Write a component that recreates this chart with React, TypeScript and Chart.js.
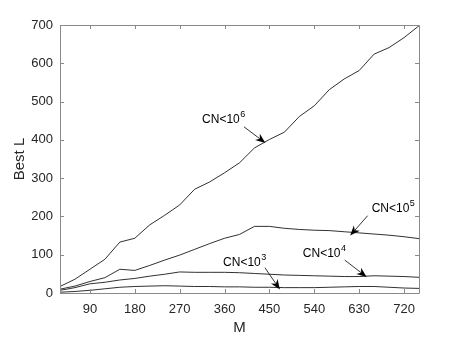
import React, { useEffect, useRef } from "react";
import { Chart, registerables } from "chart.js";

Chart.register(...registerables);

const mValues = [30, 60, 90, 120, 150, 180, 210, 240, 270, 300, 330, 360, 390, 420, 450, 480, 510, 540, 570, 600, 630, 660, 690, 720, 750];
const cn6 = [17, 36, 62, 88, 133, 143, 178, 203, 230, 271, 290, 314, 340, 379, 401, 420, 461, 489, 531, 559, 581, 624, 641, 667, 698];
const cn5 = [10, 18, 30, 40, 62, 59, 72, 86, 99, 114, 129, 143, 153, 174, 174, 169, 166, 164, 163, 160, 157, 154, 151, 147, 142];
const cn4 = [7, 14, 24, 28, 34, 38, 44, 49, 55, 54, 54, 54, 53, 51, 49, 47, 46, 45, 44, 43, 43, 45, 44, 43, 41];
const cn3 = [2, 4, 7, 11, 15, 17, 18, 19, 18, 17, 17, 16, 16, 15, 15, 14, 14, 14, 15, 16, 17, 17, 15, 13, 12];

const xTicks = [90, 180, 270, 360, 450, 540, 630, 720];
const yTicks = [0, 100, 200, 300, 400, 500, 600, 700];

const xTitle = "M";
const yTitle = "Best L";

const annotations = [
  { base: "CN<10", exp: "6", textM: 315, textV: 455, tailM: 399, tailV: 434, headM: 442, headV: 392 },
  { base: "CN<10", exp: "5", textM: 655, textV: 223, tailM: 647, tailV: 202, headM: 612, headV: 150 },
  { base: "CN<10", exp: "4", textM: 517, textV: 106, tailM: 601, tailV: 86, headM: 645, headV: 42 },
  { base: "CN<10", exp: "3", textM: 357, textV: 82, tailM: 441, tailV: 66, headM: 471, headV: 9 },
];

const FONT = "'Liberation Sans', Arial, Helvetica, sans-serif";
const TXT = "#262626";

const decorPlugin = {
  id: "decor",
  afterDraw(chart: any) {
    const ctx = chart.ctx;
    const { left, right, top, bottom } = chart.chartArea;
    const xs = chart.scales.x;
    const ys = chart.scales.y;
    ctx.save();
    // box
    ctx.strokeStyle = "#8a8a8a";
    ctx.lineWidth = 1;
    ctx.beginPath();
    ctx.rect(Math.round(left) + 0.5, Math.round(top) + 0.5, Math.round(right - left), Math.round(bottom - top));
    ctx.stroke();
    // inward ticks
    const tl = 4;
    ctx.beginPath();
    xTicks.forEach((v) => {
      const x = Math.round(xs.getPixelForValue(v)) + 0.5;
      ctx.moveTo(x, bottom);
      ctx.lineTo(x, bottom - tl);
      ctx.moveTo(x, top);
      ctx.lineTo(x, top + tl);
    });
    yTicks.forEach((v) => {
      const y = Math.round(ys.getPixelForValue(v)) + 0.5;
      ctx.moveTo(left, y);
      ctx.lineTo(left + tl, y);
      ctx.moveTo(right, y);
      ctx.lineTo(right - tl, y);
    });
    ctx.stroke();

    // axis titles
    ctx.fillStyle = TXT;
    ctx.font = `15px ${FONT}`;
    ctx.textAlign = "center";
    ctx.textBaseline = "middle";
    ctx.fillText(xTitle, (left + right) / 2, 328);
    ctx.save();
    ctx.translate(20, (top + bottom) / 2);
    ctx.rotate(-Math.PI / 2);
    ctx.fillText(yTitle, 0, 0);
    ctx.restore();

    // annotations
    annotations.forEach((a) => {
      const tx = xs.getPixelForValue(a.textM);
      const ty = ys.getPixelForValue(a.textV);
      ctx.fillStyle = "#000";
      ctx.textAlign = "left";
      ctx.textBaseline = "middle";
      ctx.font = `12px ${FONT}`;
      ctx.fillText(a.base, tx, ty + 1);
      const w = ctx.measureText(a.base).width;
      ctx.font = `9px ${FONT}`;
      ctx.fillText(a.exp, tx + w + 0.5, ty - 4);

      const x1 = xs.getPixelForValue(a.tailM);
      const y1 = ys.getPixelForValue(a.tailV);
      const x2 = xs.getPixelForValue(a.headM);
      const y2 = ys.getPixelForValue(a.headV);
      const ang = Math.atan2(y2 - y1, x2 - x1);
      const L = 10;
      const W = 4;
      const bx = x2 - L * Math.cos(ang);
      const by = y2 - L * Math.sin(ang);
      ctx.strokeStyle = "#000";
      ctx.lineWidth = 0.8;
      ctx.beginPath();
      ctx.moveTo(x1, y1);
      ctx.lineTo(bx + 3 * Math.cos(ang), by + 3 * Math.sin(ang));
      ctx.stroke();
      const px = -Math.sin(ang);
      const py = Math.cos(ang);
      const nx = x2 - (L - 3) * Math.cos(ang);
      const ny = y2 - (L - 3) * Math.sin(ang);
      ctx.fillStyle = "#000";
      ctx.beginPath();
      ctx.moveTo(x2, y2);
      ctx.lineTo(bx + px * W, by + py * W);
      ctx.lineTo(nx, ny);
      ctx.lineTo(bx - px * W, by - py * W);
      ctx.closePath();
      ctx.fill();
    });
    ctx.restore();
  },
};

function makePoints(vals: number[]) {
  return mValues.map((m, i) => ({ x: m, y: vals[i] }));
}

export default function App() {
  const ref = useRef<HTMLCanvasElement | null>(null);
  useEffect(() => {
    if (!ref.current) return;
    const lineStyle = { borderColor: "#1a1a1a", borderWidth: 0.9, pointRadius: 0, fill: false, tension: 0 };
    const chart = new Chart(ref.current, {
      type: "line",
      data: {
        datasets: [
          { label: "CN<10^6", data: makePoints(cn6), ...lineStyle },
          { label: "CN<10^5", data: makePoints(cn5), ...lineStyle },
          { label: "CN<10^4", data: makePoints(cn4), ...lineStyle },
          { label: "CN<10^3", data: makePoints(cn3), ...lineStyle },
        ],
      },
      options: {
        animation: false,
        responsive: false,
        maintainAspectRatio: false,
        layout: { padding: { top: 25, right: 44, left: 0, bottom: 0 } },
        plugins: { legend: { display: false }, tooltip: { enabled: false } },
        scales: {
          x: {
            type: "linear",
            min: 30,
            max: 750,
            grid: { display: false, drawTicks: false },
            border: { display: false },
            afterBuildTicks: (s: any) => {
              s.ticks = xTicks.map((v) => ({ value: v }));
            },
            afterFit: (s: any) => {
              s.height = 44;
            },
            ticks: { color: TXT, font: { family: FONT, size: 13 }, padding: 9, maxRotation: 0, autoSkip: false },
          },
          y: {
            type: "linear",
            min: 0,
            max: 700,
            grid: { display: false, drawTicks: false },
            border: { display: false },
            afterBuildTicks: (s: any) => {
              s.ticks = yTicks.map((v) => ({ value: v }));
            },
            afterFit: (s: any) => {
              s.width = 60;
            },
            ticks: { color: TXT, font: { family: FONT, size: 13 }, padding: 7 },
          },
        },
      },
      plugins: [decorPlugin],
    } as any);
    return () => chart.destroy();
  }, []);
  return (
    <div style={{ position: "fixed", left: 0, top: 0, width: 463, height: 337, background: "#fff" }}>
      <canvas ref={ref} width={463} height={337} style={{ display: "block" }} />
    </div>
  );
}
